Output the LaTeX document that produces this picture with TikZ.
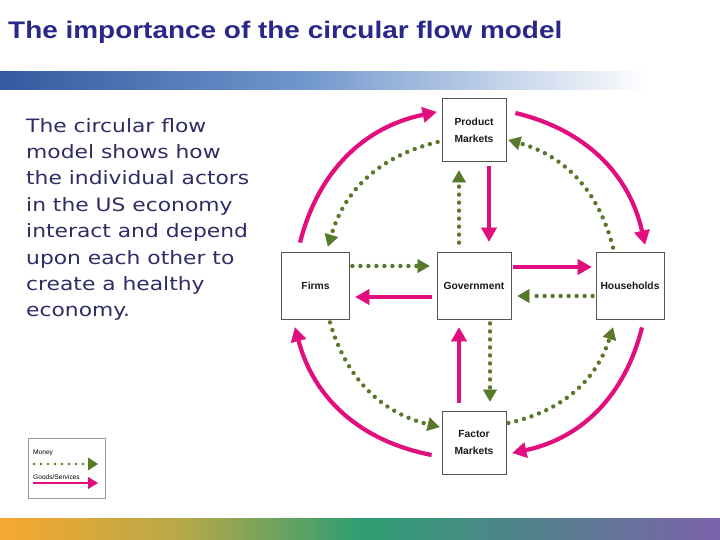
\documentclass[tikz,border=0pt]{standalone}
\usepackage{graphicx}
\usepackage{fontspec}
\setmainfont{Liberation Sans}
\newfontfamily\bodyfont{DejaVu Sans}
\usepackage{xcolor}
\usetikzlibrary{arrows.meta}

\definecolor{titleblue}{RGB}{40,40,138}
\definecolor{bodyblue}{RGB}{45,45,100}
\definecolor{goodsmag}{RGB}{226,14,126}
\definecolor{moneygreen}{RGB}{88,120,42}
\definecolor{boxgray}{RGB}{85,85,85}

\tikzset{
  mkt/.style={draw=boxgray, line width=0.8pt, fill=white, minimum width=64pt, minimum height=63pt, inner sep=0pt, align=center, text={rgb,255:red,25;green,25;blue,25}, font=\fontsize{10.3}{17}\selectfont\bfseries},
  goods/.style={draw=goodsmag, line width=4.2pt, -{Triangle[length=14pt,width=16pt,line width=0.4pt]}},
  money/.style={draw=moneygreen, line width=4.4pt, line cap=round, dash pattern=on 0pt off 8pt, -{Triangle[length=12pt,width=14pt,line width=0.4pt]}}
}

\begin{document}
\begin{tikzpicture}[x=1pt,y=-1pt]

\useasboundingbox (0,0) rectangle (720,540);

% bars
\shade [left color={rgb,255:red,52;green,89;blue,160}, right color={rgb,255:red,112;green,150;blue,204}] (0,72) rectangle (300.5,90);
\shade [left color={rgb,255:red,112;green,150;blue,204}, right color=white] (300,72) rectangle (650,90);
\shade [left color={rgb,255:red,246;green,168;blue,48}, right color={rgb,255:red,184;green,168;blue,72}] (0,518) rectangle (180.5,540);
\shade [left color={rgb,255:red,184;green,168;blue,72}, right color={rgb,255:red,46;green,158;blue,114}] (180,518) rectangle (360.5,540);
\shade [left color={rgb,255:red,46;green,158;blue,114}, right color={rgb,255:red,123;green,98;blue,170}] (360,518) rectangle (720,540);

\node [anchor=base west, inner sep=0pt, text=titleblue, font=\fontsize{24}{24}\selectfont\bfseries] (title) at (8,39) {\scalebox{1.164}[1]{The importance of the circular flow model}};

\node [anchor=north west, inner sep=0pt, text=bodyblue] (intro) at (26,118) {\scalebox{1.185}[1]{\parbox{200pt}{\raggedright\bodyfont\fontsize{18.4}{26.4}\selectfont The circular flow\\model shows how\\the individual actors\\in the US economy\\interact and depend\\upon each other to\\create a healthy\\economy.}}};

\node [mkt] (prod) at (474,130) {Product\\Markets};
\node [mkt, minimum width=68pt, minimum height=67pt] (firms) at (315.5,286) {Firms};
\node [mkt, minimum width=74pt, minimum height=67pt] (gov) at (474,286) {Government};
\node [mkt, minimum width=68pt, minimum height=67pt] (house) at (630,286) {Households};
\node [mkt] (fact) at (474,443) {Factor\\Markets};

% outer ring
\draw [goods] ([shift={(-15.5,-9.5)}]firms.north) to[bend left=32] ([shift={(-5,-18)}]prod.west);
\draw [goods] ([shift={(9,-17)}]prod.east) to[bend left=32] ([shift={(15,-7.5)}]house.north);
\draw [goods] ([shift={(12,7.5)}]house.south) to[bend left=32] ([shift={(6,10)}]fact.east);
\draw [goods] ([shift={(-10,12)}]fact.west) to[bend left=32] ([shift={(-20.5,7.5)}]firms.south);

% inner ring
\draw [money] ([shift={(-4,12)}]prod.west) to[bend right=30] ([shift={(12.5,-5.5)}]firms.north);
\draw [money] ([shift={(-17,-4.5)}]house.north) to[bend right=30] ([shift={(2,10)}]prod.east);
\draw [money] ([shift={(14.5,2.5)}]firms.south) to[bend right=30] ([shift={(-2,-16)}]fact.west);
\draw [money] ([shift={(2,-20)}]fact.east) to[bend right=30] ([shift={(-17,7.5)}]house.south);

% government
\draw [goods] ([shift={(15,4.5)}]prod.south) -- ([shift={(15,-10.5)}]gov.north);
\draw [money] ([shift={(-15,-9.5)}]gov.north) -- ([shift={(-15,8.5)}]prod.south);
\draw [goods] ([shift={(-15,-8.5)}]fact.north) -- ([shift={(-15,7.5)}]gov.south);
\draw [money] ([shift={(16,3.5)}]gov.south) -- ([shift={(16,-9.5)}]fact.north);
\draw [money] ([shift={(2.5,-20)}]firms.east) -- ([shift={(-7,-20)}]gov.west);
\draw [goods] ([shift={(2,-19)}]gov.east) -- ([shift={(-4,-19)}]house.west);
\draw [money] ([shift={(-3,10)}]house.west) -- ([shift={(6,10)}]gov.east);
\draw [goods] ([shift={(-5,11)}]gov.west) -- ([shift={(5.5,11)}]firms.east);

% legend
\node [draw=boxgray!60, line width=0.6pt, minimum width=77pt, minimum height=60pt, anchor=north west, inner sep=0pt] (legend) at (28,438) {};
\node [anchor=base west, inner sep=0pt, font=\fontsize{6.6}{6.6}\selectfont] (moneylbl) at (33,454) {Money};
\node [anchor=base west, inner sep=0pt, font=\fontsize{6.6}{6.6}\selectfont] (goodslbl) at (33,479) {Goods/Services};
\coordinate (money1) at (34,464);
\coordinate (money2) at (98,464);
\coordinate (goods1) at (33,483);
\coordinate (goods2) at (98,483);
\draw [money, line width=2.6pt, dash pattern=on 0pt off 7pt, -{Triangle[length=10pt,width=13pt,line width=0.4pt]}] (money1) -- (money2);
\draw [goods, line width=2.8pt, -{Triangle[length=10pt,width=12pt,line width=0.4pt]}] (goods1) -- (goods2);

\end{tikzpicture}
\end{document}
